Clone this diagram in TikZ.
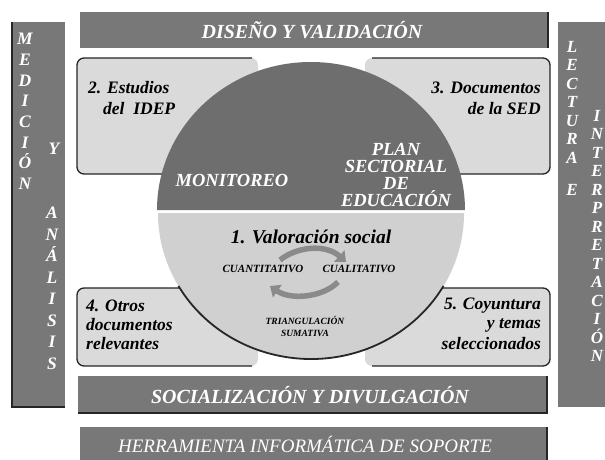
\documentclass[tikz,border=0pt]{standalone}
\usepackage{fontspec}
\setmainfont{Liberation Serif}
\usetikzlibrary{arrows.meta}
\definecolor{bargray}{HTML}{787878}
\definecolor{bardark}{HTML}{262626}
\definecolor{boxfill}{HTML}{DADADA}
\definecolor{darkhalf}{HTML}{6E6E6E}
\definecolor{lighthalf}{HTML}{D0D0D0}
\definecolor{arrowgray}{HTML}{8A8A8A}
\tikzset{
  bar/.style={fill=bargray},
  barline/.style={draw=bardark, line width=1.6pt},
  bartext/.style={text=white, font=\fontsize{20}{22}\selectfont\bfseries\itshape, inner sep=0pt},
  herrtext/.style={text=white, font=\fontsize{19}{21}\selectfont\itshape, inner sep=0pt},
  vtext/.style={text=white, font=\fontsize{17.5}{20.7}\selectfont\bfseries\itshape, align=center, inner sep=0pt, anchor=north},
  vtextb/.style={text=white, font=\fontsize{17}{18.5}\selectfont\bfseries\itshape, align=center, inner sep=0pt, anchor=north},
  boxedge/.style={draw=bardark, line width=1.3pt},
  boxtext/.style={text=black, font=\fontsize{17.5}{19}\selectfont\bfseries\itshape, inner sep=0pt},
  whitetext/.style={text=white, font=\fontsize{18.5}{17}\selectfont\bfseries\itshape, inner sep=0pt, align=center},
  smalltext/.style={text=black, font=\fontsize{11}{12}\selectfont\bfseries\itshape, inner sep=0pt},
  tinytext/.style={text=black, font=\fontsize{9.5}{12}\selectfont\bfseries\itshape, inner sep=0pt, align=center},
  cyclearrow/.style={draw=arrowgray, line width=5.5pt, -{Triangle[length=9pt,width=15pt]}}
}
\begin{document}
\begin{tikzpicture}[x=1pt,y=-1pt]
\useasboundingbox (0,0) rectangle (605,460);
\fill[white] (0,0) rectangle (605,460);
% side bars
\fill[bar] (12,22) rectangle (65,407);
\draw[barline] (12,22) -- (12,407) -- (65,407);
\fill[bar] (558,22) rectangle (605,407);
% top bar
\fill[bar] (80,12) rectangle (548,48);
\draw[barline] (548,12) -- (548,48);
% bottom bar
\fill[bar] (78,376) rectangle (547,413);
\draw[barline] (78,413) -- (547,413) -- (547,376);
% herramienta bar
\fill[bar] (80,427) rectangle (547,460);
\draw[barline] (547,427) -- (547,460);
% boxes
\fill[boxfill, rounded corners=7pt] (77,58) rectangle (258,174);
\draw[boxedge, rounded corners=7pt] (252,58) -- (77,58) -- (77,174) -- (252,174);
\fill[boxfill, rounded corners=7pt] (365,58) rectangle (550,174);
\draw[boxedge, rounded corners=7pt] (372,58) -- (550,58) -- (550,174) -- (372,174);
\fill[boxfill, rounded corners=7pt] (77,288) rectangle (258,366);
\draw[boxedge, rounded corners=7pt] (252,288) -- (77,288) -- (77,366) -- (252,366);
\fill[boxfill, rounded corners=7pt] (365,288) rectangle (550,366);
\draw[boxedge, rounded corners=7pt] (372,288) -- (550,288) -- (550,366) -- (372,366);
% circle halves
\fill[darkhalf] (157,210) arc[start angle=180, end angle=360, x radius=154, y radius=148] -- cycle;
\fill[lighthalf] (158,213) arc[start angle=180, end angle=0, x radius=153, y radius=146] -- cycle;
\draw[bardark, line width=1.8pt] (311,213) ++(150:153 and 146) arc[start angle=150, end angle=30, x radius=153, y radius=146];
% texts in bars
\node[bartext] (dis) at (312,30) {DISEÑO Y VALIDACIÓN};
\node[bartext] (soc) at (310,395) {SOCIALIZACIÓN Y DIVULGACIÓN};
\node[herrtext] (her) at (305,444) {HERRAMIENTA INFORMÁTICA DE SOPORTE};
\node[vtext] (med) at (25,33) {M\\E\\D\\I\\C\\I\\Ó\\N};
\node[vtext] (yy) at (54,143) {Y};
\node[vtext, font=\fontsize{17.5}{21.5}\selectfont\bfseries\itshape] (ana) at (52,207) {A\\N\\Á\\L\\I\\S\\I\\S};
\node[vtextb] (lec) at (572,41) {L\\E\\C\\T\\U\\R\\A};
\node[vtextb] (ee) at (572,184) {E};
\node[vtextb] (int) at (597,110) {I\\N\\T\\E\\R\\P\\R\\E\\T\\A\\C\\I\\Ó\\N};
% box texts
\node[boxtext, anchor=west] (b2a) at (88,88) {2. Estudios};
\node[boxtext, anchor=west] (b2b) at (103,109) {del\ \ IDEP};
\node[boxtext, anchor=east] (b3a) at (541,88) {3. Documentos};
\node[boxtext, anchor=east] (b3b) at (541,109) {de la SED};
\node[boxtext, anchor=west] (b4a) at (86,306) {4. Otros};
\node[boxtext, anchor=west] (b4b) at (86,325) {documentos};
\node[boxtext, anchor=west] (b4c) at (86,344) {relevantes};
\node[boxtext, anchor=east] (b5a) at (541,306) {5. Coyuntura};
\node[boxtext, anchor=east] (b5b) at (541,325) {y temas};
\node[boxtext, anchor=east] (b5c) at (541,344) {seleccionados};
% dark half texts
\node[whitetext] (mon) at (232,180) {MONITOREO};
\node[whitetext] (plan) at (396,175) {PLAN\\SECTORIAL\\DE\\EDUCACIÓN};
% light half texts
\node[boxtext, font=\fontsize{19.5}{21}\selectfont\bfseries\itshape] (val) at (311,237) {1. Valoración social};
\node[smalltext] (cuan) at (263,269) {CUANTITATIVO};
\node[smalltext] (cual) at (359,269) {CUALITATIVO};
\node[tinytext] (tri) at (305,326) {TRIANGULACIÓN\\SUMATIVA};
% cycle arrows
\coordinate (u1) at (280,260);
\coordinate (u2) at (346,262);
\coordinate (l1) at (338,282);
\coordinate (l2) at (270,286);
\draw[cyclearrow] (u1) .. controls (298,246) and (326,244) .. (u2);
\draw[cyclearrow] (l1) .. controls (322,298) and (290,300) .. (l2);
\end{tikzpicture}
\end{document}
